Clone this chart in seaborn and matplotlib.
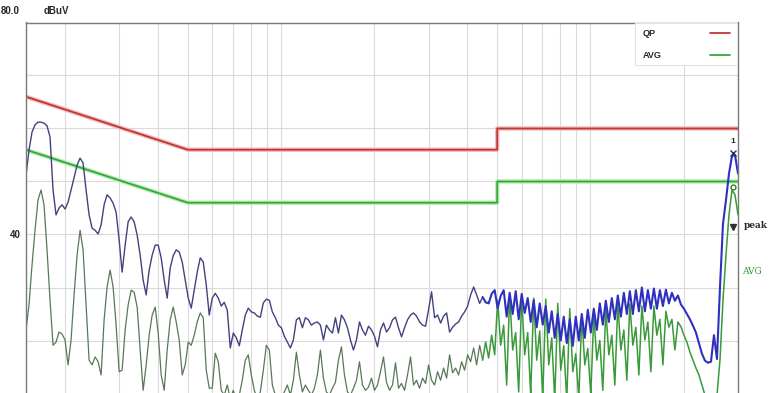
import numpy as np
import pandas as pd
import matplotlib
matplotlib.use("Agg")
import matplotlib.pyplot as plt
import seaborn as sns
from matplotlib.lines import Line2D
from matplotlib.patches import Rectangle

# ---------------- data ----------------
f_start, f_stop, n_points = 0.15, 30.0, 238   # receiver sweep (MHz)
dense_from_mhz = 4.4                            # start of the dense harmonic region

peak_dbuv = [
    51.2, 55.9, 59.3, 60.7, 61.2, 61.2, 61.0, 60.5, 58.4, 48.4,
    43.7, 45.0, 45.6, 44.8, 46.1, 48.4, 50.7, 53.1, 54.4, 53.5,
    48.4, 43.7, 41.2, 40.8, 40.1, 41.8, 45.6, 47.5, 46.9, 45.9,
    44.2, 39.0, 32.9, 38.0, 42.4, 43.3, 42.4, 39.9, 36.1, 31.4,
    28.6, 33.3, 36.1, 38.0, 38.0, 35.6, 31.4, 28.0, 33.7, 36.0,
    37.1, 36.7, 34.8, 31.4, 28.0, 26.1, 29.5, 32.9, 35.6, 34.8,
    30.5, 24.8, 28.0, 28.9, 28.0, 26.5, 27.2, 25.7, 18.6, 21.4,
    20.5, 19.0, 22.0, 24.8, 26.1, 25.4, 25.2, 24.6, 24.4, 27.1,
    27.8, 27.6, 25.4, 24.3, 22.9, 22.4, 20.8, 19.7, 18.6, 20.1,
    23.9, 24.3, 22.4, 24.3, 23.9, 22.9, 23.3, 23.5, 22.9, 20.1,
    22.9, 22.0, 21.4, 24.3, 21.4, 24.8, 23.9, 22.4, 20.1, 18.2,
    20.1, 23.5, 22.0, 21.0, 22.7, 22.0, 20.8, 18.8, 22.0, 23.3,
    21.6, 22.4, 23.9, 24.4, 22.4, 20.7, 22.4, 23.9, 24.8, 25.2,
    24.6, 23.5, 22.9, 22.7, 25.8, 29.2, 24.3, 24.8, 23.3, 24.6,
    25.2, 21.6, 22.5, 23.1, 23.5, 24.6, 25.4, 26.5, 28.6, 30.1,
    28.6, 27.0, 28.2, 27.2, 27.0, 28.8, 29.5, 26.1, 28.4, 29.5,
    24.5, 29.0, 25.0, 29.3, 24.0, 28.8, 25.2, 28.0, 23.5, 27.6,
    22.5, 27.0, 23.0, 26.5, 21.5, 25.5, 20.5, 25.0, 20.0, 24.5,
    19.5, 24.0, 19.0, 24.5, 20.0, 25.0, 20.5, 25.8, 21.5, 26.0,
    22.0, 27.0, 23.0, 27.5, 23.5, 28.0, 24.0, 28.5, 24.5, 29.0,
    25.0, 29.3, 25.0, 29.5, 25.5, 30.0, 25.5, 29.5, 26.0, 29.8,
    26.0, 29.5, 26.5, 29.6, 27.0, 29.0, 27.5, 28.5, 26.8, 26.0,
    25.0, 24.0, 22.8, 21.5, 19.5, 17.5, 16.2, 15.8, 16.0, 21.0,
    16.5, 30.0, 42.0, 46.5, 51.5, 54.8, 55.0, 51.5,
]

avg_dbuv = [
    22.0, 26.7, 34.2, 40.8, 46.5, 48.4, 45.6, 37.1, 27.6, 19.1,
    19.7, 21.6, 21.2, 20.1, 15.4, 20.1, 28.6, 36.1, 40.8, 37.1,
    26.7, 16.3, 15.4, 16.9, 16.0, 13.5, 23.9, 30.1, 33.3, 30.1,
    22.9, 14.1, 14.4, 22.0, 26.7, 29.5, 29.1, 26.3, 18.2, 10.6,
    15.4, 21.0, 24.8, 26.3, 21.4, 13.5, 10.6, 18.2, 23.9, 26.3,
    23.5, 20.1, 13.5, 15.4, 19.7, 19.1, 21.0, 23.5, 25.2, 24.3,
    14.4, 11.0, 11.0, 17.6, 16.0, 10.6, 9.7, 11.6, 9.0, 10.6,
    8.8, 9.7, 12.5, 16.3, 17.3, 13.5, 10.6, 9.0, 10.3, 14.4,
    19.1, 18.2, 11.6, 9.7, 8.8, 9.0, 10.3, 11.6, 9.7, 12.5,
    17.8, 13.5, 10.3, 11.6, 10.6, 9.7, 11.0, 13.5, 18.2, 12.9,
    10.3, 9.7, 11.0, 12.1, 16.3, 18.8, 13.5, 10.3, 9.7, 11.0,
    12.5, 16.0, 11.6, 10.6, 11.2, 12.9, 10.6, 11.6, 14.1, 16.9,
    12.1, 10.6, 11.6, 15.8, 11.0, 11.9, 10.6, 13.5, 16.9, 11.6,
    12.5, 11.0, 12.9, 11.9, 15.4, 12.5, 11.6, 14.1, 12.5, 14.8,
    12.9, 17.3, 13.9, 14.8, 13.5, 16.0, 14.4, 17.3, 16.0, 18.6,
    15.4, 19.1, 16.3, 19.7, 16.7, 21.0, 17.3, 27.6, 19.1, 22.9,
    11.6, 28.6, 18.2, 21.5, 10.3, 28.2, 17.3, 21.5, 9.7, 28.0,
    16.3, 21.8, 9.0, 27.8, 15.4, 20.5, 8.8, 27.0, 14.4, 19.0,
    8.8, 26.0, 14.1, 17.5, 9.0, 24.5, 15.4, 18.5, 9.7, 25.0,
    16.3, 20.0, 10.6, 26.0, 17.3, 21.0, 11.6, 26.9, 18.2, 22.0,
    12.5, 26.9, 19.1, 22.5, 13.5, 26.5, 20.1, 23.5, 14.1, 26.5,
    21.0, 24.0, 15.4, 25.5, 22.5, 24.0, 18.2, 23.5, 22.6, 21.0,
    19.7, 17.8, 16.3, 14.8, 13.5, 11.6, 9.7, 8.8, 8.8, 8.8,
    9.7, 16.3, 27.6, 36.1, 43.7, 48.4, 47.5, 43.7,
]

limit_freq = [0.15, 0.5, 5.0, 5.0, 30.0]
qp_limit = [66, 56, 56, 60, 60]
avg_limit = [56, 46, 46, 50, 50]

marker_freq = [28.8]
marker_peak = [55.4]
marker_avg = [49.0]
marker_lim = [41.4]

legend_labels = ["QP", "AVG"]
ytick_vals = [0, 10, 20, 30, 40, 50, 60, 70, 80]

# ---------------- plot ----------------
sns.set_style("white")
plt.rcParams["font.family"] = ["Liberation Sans", "DejaVu Sans"]

freq = np.geomspace(f_start, f_stop, n_points)
scan = pd.DataFrame({"freq": freq, "peak": peak_dbuv, "avg": avg_dbuv})
low = scan[scan.freq <= dense_from_mhz * 1.02]
high = scan[scan.freq >= dense_from_mhz]
lim = pd.DataFrame({"freq": limit_freq, "QP": qp_limit, "AVG": avg_limit})

fig = plt.figure(figsize=(7.74, 3.93), dpi=100)
ax = fig.add_axes([26 / 774, (393 - 22.5 - 424) / 393, 712 / 774, 424 / 393])

ax.set_xscale("log")
ax.set_xlim(0.15, 30)
ax.set_ylim(0, 80)
ax.set_yticks(ytick_vals)
ax.set_yticklabels(["" if v != 40 else "40" for v in ytick_vals],
                   fontsize=7, fontweight="bold")
ax.tick_params(axis="y", length=0, pad=4)
ax.tick_params(axis="x", which="both", length=0, labelbottom=False)
ax.grid(True, which="both", color="#dadada", lw=0.8)
for s in ax.spines.values():
    s.set_color("#7a7a7a")
    s.set_linewidth(1.0)

# limit lines (soft halo + core)
for name, col, halo in [("QP", "#c03434", "#f3bcbc"), ("AVG", "#30aa30", "#bcebbc")]:
    sns.lineplot(data=lim, x="freq", y=name, ax=ax, color=halo, lw=3.2,
                 estimator=None, sort=False, legend=False)
    sns.lineplot(data=lim, x="freq", y=name, ax=ax, color=col, lw=1.3,
                 estimator=None, sort=False, legend=False)

# average trace
sns.lineplot(data=low, x="freq", y="avg", ax=ax, color="#587858", lw=0.9,
             estimator=None, sort=False, legend=False)
sns.lineplot(data=high, x="freq", y="avg", ax=ax, color="#3a9a3a", lw=1.1,
             estimator=None, sort=False, legend=False)
# peak trace
sns.lineplot(data=low, x="freq", y="peak", ax=ax, color="#42427e", lw=1.0,
             estimator=None, sort=False, legend=False)
sns.lineplot(data=high, x="freq", y="peak", ax=ax, color="#3030c0", lw=1.5,
             estimator=None, sort=False, legend=False)
ax.set_xlabel("")
ax.set_ylabel("")

# markers at right edge
ax.plot(marker_freq, marker_peak, marker="x", color="#303060", ms=4, mew=1, ls="none")
ax.plot(marker_freq, marker_avg, marker="o", color="#2f7f2f", ms=3.5, mfc="none", mew=1, ls="none")
ax.plot(marker_freq, marker_lim, marker="v", color="#303030", ms=4, ls="none", clip_on=False)
ax.annotate("1", (marker_freq[0], marker_peak[0]), xytext=(0, 6), textcoords="offset points",
            ha="center", va="bottom", fontsize=6, fontweight="bold", annotation_clip=False)
ax.annotate("peak", (30, marker_lim[0]), xytext=(4, 1), textcoords="offset points",
            ha="left", va="center", fontsize=6.5, fontweight="bold", family="DejaVu Serif",
            annotation_clip=False)
ax.annotate("AVG", (30, 33.0), xytext=(3, 0), textcoords="offset points",
            ha="left", va="center", fontsize=6.5, color="#2f9a2f", family="DejaVu Serif",
            annotation_clip=False)

# legend box (label first, line after)
tr = ax.transAxes
box_y0 = 1 - (65 - 22.5) / 424
ax.add_patch(Rectangle((609 / 712, box_y0), (711 - 609) / 712, 1 - box_y0 - 0.002,
                       transform=tr, facecolor="white", edgecolor="#e4e4e4", lw=0.8, zorder=5))
for k, (lab, col) in enumerate(zip(legend_labels, ["#c03434", "#30aa30"])):
    yy = 1 - (33 + 22 * k - 22.5) / 424
    ax.text(617 / 712, yy, lab, transform=tr, fontsize=6.5, fontweight="bold",
            va="center", ha="left", zorder=6)
    ax.add_line(Line2D([684 / 712, 704 / 712], [yy, yy], transform=tr, color=col,
                       lw=1.3, zorder=6))

# top-left unit labels
fig.text(1 / 774, 1 - 11 / 393, "80.0", fontsize=7, fontweight="bold", va="center", ha="left")
fig.text(44 / 774, 1 - 11 / 393, "dBuV", fontsize=7, fontweight="bold", va="center", ha="left")

fig.savefig("out.png", dpi=100)
